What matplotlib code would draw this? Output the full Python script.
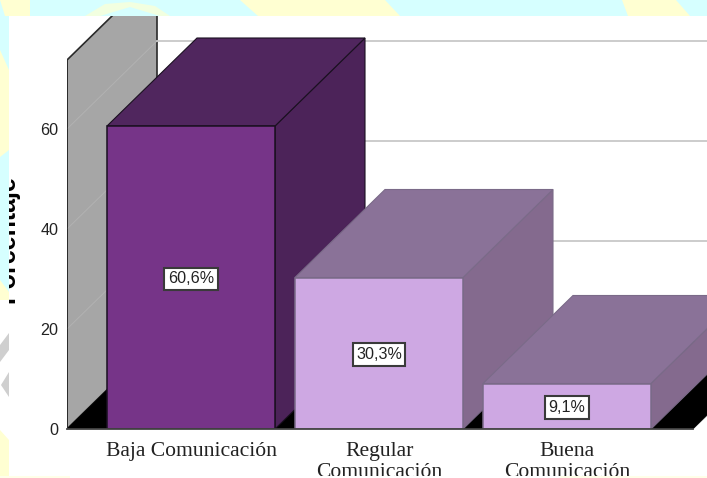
import matplotlib
matplotlib.use("Agg")
import matplotlib.pyplot as plt
from matplotlib.patches import Polygon, Rectangle

categories = ["Baja Comunicación", "Regular\nComunicación", "Buena\nComunicación"]
values = [60.6, 30.3, 9.1]
value_labels = ["60,6%", "30,3%", "9,1%"]
y_ticks = [0, 20, 40, 60]

W, H = 707, 478
# plot area in pixels
left, right, top, bottom = 67, 707, 16, 429
px_per_unit = 5.0
px_per_cat = 188.0
bar_w = 168 / px_per_cat
dx = 90 / px_per_cat
dy = 88 / px_per_unit
x_first = (67 - 191) / px_per_cat
x_last = (693 - 191) / px_per_cat
wall_top = 73.8

fig = plt.figure(figsize=(W / 100, H / 100), dpi=100)

# page behind the chart
bg = fig.add_axes([0, 0, 1, 1], zorder=0)
bg.set_xlim(0, W)
bg.set_ylim(H, 0)
bg.axis("off")
cyan = "#D6FFFF"
yellow = "#FFFFD2"
bg.add_patch(Rectangle((0, 0), W, H, color=cyan, lw=0))
for pts in [[(0, 0), (30, 0), (30, 16), (5, 16)],
            [(240, 0), (385, 0), (400, 16), (258, 16)],
            [(622, 0), (676, 0), (690, 16), (628, 16)],
            [(0, 50), (9, 70), (9, 150), (0, 157)],
            [(0, 280), (9, 292), (9, 305), (0, 300)]]:
    bg.add_patch(Polygon(pts, color=yellow, lw=0))
bg.add_patch(Polygon([(85, 16), (105, 4), (130, 2), (155, 6), (170, 16), (160, 16),
                      (130, 7), (100, 16)], color="#F2FFE0", lw=0))
bg.add_patch(Rectangle((0, 300), 9, 178, color="white", lw=0))
bg.add_patch(Polygon([(0, 430), (9, 440), (9, 478), (0, 478)], color=yellow, lw=0))
bg.add_patch(Polygon([(0, 345), (9, 333), (9, 350), (0, 362)], color="#CFCFCF", lw=0))
bg.add_patch(Polygon([(1, 385), (9, 372), (9, 397)], color="#CFCFCF", lw=0))
bg.add_patch(Rectangle((9, 16), W - 9, H - 16, color="white", lw=0))
bg.add_patch(Rectangle((0, 476), 70, 2, color="#FFFFE8", lw=0))
bg.add_patch(Rectangle((560, 476), 147, 2, color="#FFFFE8", lw=0))

page = Rectangle((9, 16), W - 9, 460, transform=bg.transData)
ylab = bg.text(14, 239, "Porcentaje", rotation=90, rotation_mode="anchor",
               ha="center", va="baseline", fontsize=18, fontweight="bold",
               family="Liberation Sans", color="black")
ylab.set_clip_path(page)
ylab.set_clip_on(True)

ax = fig.add_axes([left / W, 1 - bottom / H, (right - left) / W, (bottom - top) / H], zorder=1)
ax.patch.set_visible(False)
ax.set_xlim((left - 191) / px_per_cat, (right - 191) / px_per_cat)
ax.set_ylim(0, (bottom - top) / px_per_unit)
for s in ax.spines.values():
    s.set_visible(False)

# back wall
ax.add_patch(Polygon([(x_first, 0), (x_first + dx, dy), (x_first + dx, wall_top + dy), (x_first, wall_top)],
                     fc="#A6A6A6", ec="#2A2A2A", lw=1.2, zorder=1))
# grid lines on wall and back
for t in y_ticks[1:]:
    ax.plot([x_first, x_first + dx], [t, t + dy], color="#B2B2B2", lw=0.7, zorder=2)
    ax.plot([x_first + dx, x_last + dx], [t + dy, t + dy], color="#C8C8C8", lw=1.3, zorder=2)
# floor
ax.add_patch(Polygon([(x_first, 0), (x_last, 0), (x_last + dx, dy), (x_first + dx, dy)],
                     fc="black", ec="black", lw=0.5, zorder=2))
ax.plot([x_first, x_last], [0, 0], color="#444444", lw=1.3, zorder=9, clip_on=False)
ax.plot([x_first, x_first], [0, wall_top], color="#2A2A2A", lw=1.3, zorder=2)

front_cols = ["#763488", "#CEA8E3", "#CEA8E3"]
top_cols = ["#50265E", "#8A7298", "#8A7298"]
side_cols = ["#4C2359", "#846A8E", "#846A8E"]
edge_cols = ["#1A1020", "#7A6A88", "#7A6A88"]

for i, v in enumerate(values):
    x0 = i - bar_w / 2
    x1 = i + bar_w / 2
    z = 3 + i
    ax.add_patch(Polygon([(x1, 0), (x1 + dx, dy), (x1 + dx, v + dy), (x1, v)],
                         fc=side_cols[i], ec=edge_cols[i], lw=0.8, zorder=z))
    ax.add_patch(Polygon([(x0, v), (x1, v), (x1 + dx, v + dy), (x0 + dx, v + dy)],
                         fc=top_cols[i], ec=edge_cols[i], lw=0.8, zorder=z))
    ax.bar(i, v, width=bar_w, color=front_cols[i], edgecolor=edge_cols[i], lw=1.1, zorder=z)
    ax.text(i, v / 2 - 0.25, value_labels[i], ha="center", va="center", fontsize=11.6,
            family="Liberation Sans", color="#222222", zorder=10,
            bbox=dict(boxstyle="square,pad=0.22", fc="white", ec="#3A3A3A", lw=1.5))

ax.set_yticks(y_ticks)
ax.set_yticklabels([str(t) for t in y_ticks], fontsize=11.6, family="Liberation Sans", color="#222222")
ax.tick_params(axis="y", length=0, pad=6)
ax.set_xticks(range(len(categories)))
ax.set_xticklabels(categories, fontsize=15.6, family="Liberation Serif", color="#222222", linespacing=1.12)
ax.tick_params(axis="x", length=0, pad=9.6)
for lab in ax.get_xticklabels():
    lab.set_clip_path(page)
    lab.set_clip_on(True)

fig.savefig("out.png", dpi=100)
